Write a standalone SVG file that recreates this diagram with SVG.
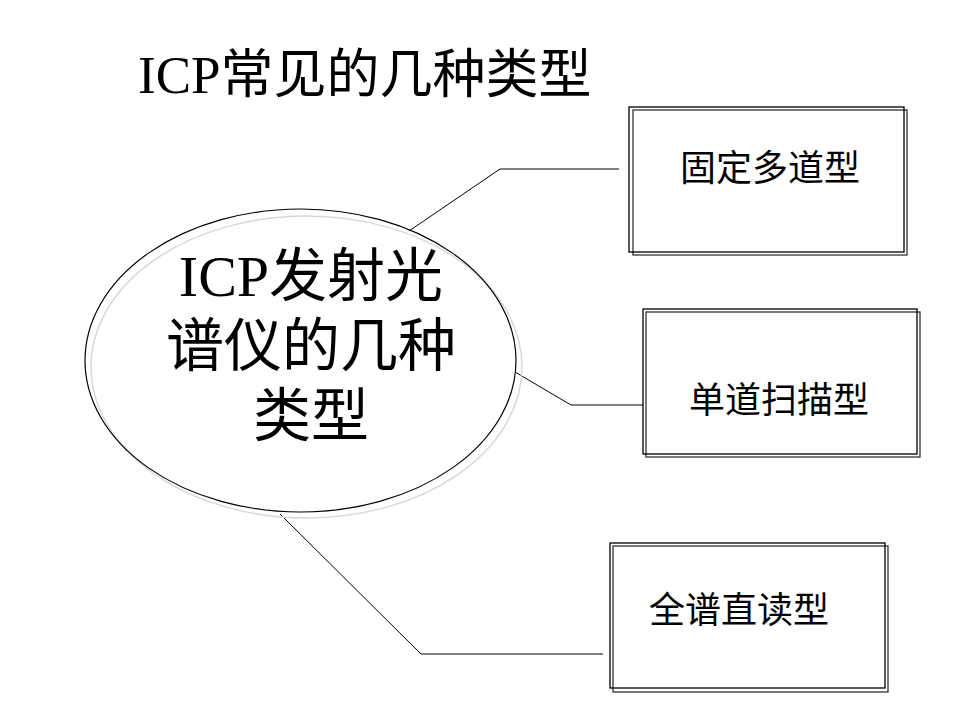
<svg xmlns="http://www.w3.org/2000/svg" width="960" height="720" viewBox="0 0 960 720">
<style>
.t{font-family:"Liberation Serif","Noto Sans CJK SC",serif;fill:#000;text-anchor:middle}
.box{fill:none;stroke:#000;stroke-width:1.3}
.shadow{fill:none;stroke:#333;stroke-width:1.3}
.conn{fill:none;stroke:#000;stroke-width:1}
</style>
<rect width="960" height="720" fill="#fff"/>
<text id="title" x="138" y="93" font-size="53" class="t" style="text-anchor:start">ICP常见的几种类型</text>
<g id="connectors">
<polyline class="conn" points="409,231 500,169 619,169"/>
<polyline class="conn" points="515,372 571,405 643,405"/>
<polyline class="conn" points="280,514 421,654 603,654"/>
</g>
<g id="center">
<ellipse cx="306.5" cy="367" rx="215.5" ry="151" fill="none" stroke="#d8d8d8" stroke-width="1.5"/>
<ellipse cx="300.5" cy="360.5" rx="215.5" ry="151.5" fill="none" stroke="#000" stroke-width="1.2"/>
<text class="t" font-size="58"><tspan x="311" y="296">ICP发射光</tspan><tspan x="311" y="366">谱仪的几种</tspan><tspan x="311" y="436">类型</tspan></text>
</g>
<g id="box1">
<rect class="shadow" x="633" y="110" width="274" height="145"/>
<rect class="box" x="629" y="107" width="275" height="145"/>
<text class="t" x="770" y="181" font-size="36">固定多道型</text>
</g>
<g id="box2">
<rect class="shadow" x="646" y="312" width="274" height="145"/>
<rect class="box" x="643" y="309" width="274" height="145"/>
<text class="t" x="779" y="413" font-size="36">单道扫描型</text>
</g>
<g id="box3">
<rect class="shadow" x="613" y="546" width="275" height="146"/>
<rect class="box" x="610" y="543" width="275" height="145"/>
<text class="t" x="739" y="623" font-size="36">全谱直读型</text>
</g>
</svg>
